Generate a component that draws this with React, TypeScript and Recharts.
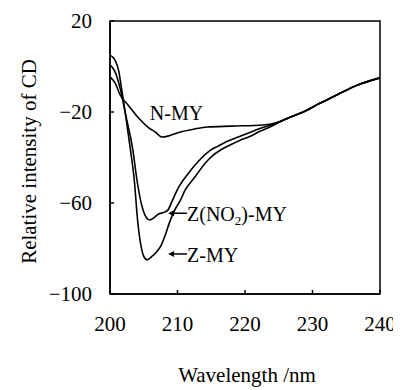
import React from "react";
import {
  LineChart,
  Line,
  XAxis,
  YAxis,
  ReferenceArea,
  ReferenceDot,
  Label,
} from "recharts";

// [wavelength nm, CD]
const zMy: [number, number][] = [
  [200, 5], [200.7, 3], [201.3, -2], [201.7, -9.5], [202.3, -21], [203, -36],
  [203.6, -50], [204.1, -68], [204.6, -79], [205.0, -83.5], [205.5, -85],
  [206.2, -83.5], [206.9, -81.5], [207.6, -78.5], [208.2, -74], [208.7, -69.5],
  [209.6, -63], [210.4, -59], [211.1, -54.5], [212.6, -48.5], [214.1, -42.5],
  [215.3, -39], [216.5, -36.5], [217.8, -34.5], [219.2, -32.5], [220.7, -30.8],
  [222.2, -28.5], [223.7, -26.6], [225, -24.6],
];

const zNo2My: [number, number][] = [
  [200, 0.7], [200.7, -2], [201.5, -9.5], [202.3, -21], [203.4, -37], [204, -50],
  [204.7, -61], [205.3, -66], [205.9, -67.5], [206.5, -66.5], [207.1, -65],
  [208.1, -64], [208.6, -63], [209.3, -58.5], [210.1, -53.5], [211.6, -47],
  [213, -42], [214.8, -37], [216, -35], [217.3, -33], [219, -31], [220.7, -29],
  [222.2, -27.3], [223.7, -25.8], [225, -24.4],
];

const nMy: [number, number][] = [
  [200, -4.6], [200.8, -7.5], [201.5, -12.5], [202.7, -17], [204.1, -22.2],
  [205.6, -26.6], [206.7, -28.8], [207.7, -31], [208.7, -30.5], [210.4, -28.8],
  [212.5, -27.5], [214.4, -26.6], [218, -26.2], [222.7, -25.7], [225, -24.4],
];

// shared tail after the curves merge
const tail: [number, number][] = [
  [226.5, -22.5], [228.6, -20], [231, -16.3], [233.6, -12.5], [236.6, -8.2], [240, -5],
];

const xTicks = [200, 210, 220, 230, 240];
const yTicks = [20, -20, -60, -100];

const toRows = (pts: [number, number][]) =>
  pts.concat(tail).map(([wl, cd]) => ({ wl, cd }));

const FONT = "Liberation Serif";

const fmtY = (v: number) => (v < 0 ? "\u2212" + Math.abs(v) : String(v));

const Arrow = ({ cx, cy, text }: any) => (
  <g>
    <line x1={cx + 3} y1={cy} x2={cx + 19} y2={cy} stroke="#000" strokeWidth={1.5} />
    <polygon points={`${cx},${cy} ${cx + 6},${cy - 3} ${cx + 6},${cy + 3}`} fill="#000" />
    <text x={cx + 19} y={cy + 8} fontFamily={FONT} fontSize={20}>
      {text}
    </text>
  </g>
);

export default function App() {
  return (
    <div className="cd-chart">
      <style>{`.cd-chart text, .cd-chart tspan { font-family: "Liberation Serif", serif !important; }`}</style>
      <LineChart
        width={390}
        height={380}
        margin={{ top: 13, right: 18, left: 0, bottom: 0 }}
      >
        <XAxis
          type="number"
          dataKey="wl"
          domain={[200, 240]}
          ticks={xTicks}
          height={94}
          tickSize={-4}
          tickMargin={26}
          stroke="#000"
          strokeWidth={1.5}
          tick={{ fontFamily: FONT, fontSize: 21, fill: "#000" }}
        >
          <Label
            content={({ viewBox }: any) => (
              <text
                x={viewBox.x + viewBox.width / 2 + 2}
                y={374}
                textAnchor="middle"
                fontFamily={FONT}
                fontSize={21}
              >
                Wavelength /nm
              </text>
            )}
          />
        </XAxis>
        <YAxis
          type="number"
          domain={[-100, 20]}
          ticks={yTicks}
          width={102}
          tickSize={-4}
          tickMargin={22}
          tickFormatter={fmtY}
          stroke="#000"
          strokeWidth={1.5}
          tick={{ fontFamily: FONT, fontSize: 21, fill: "#000" }}
        >
          <Label
            content={({ viewBox }: any) => (
              <text
                x={0}
                y={0}
                transform={`translate(28, ${viewBox.y + viewBox.height / 2 + 4}) rotate(-90)`}
                textAnchor="middle"
                fontFamily={FONT}
                fontSize={21}
              >
                Relative intensity of CD
              </text>
            )}
          />
        </YAxis>
        <ReferenceArea x1={200} x2={240} y1={-100} y2={20} fill="none" stroke="#000" strokeWidth={1.5} />
        <Line data={toRows(nMy)} dataKey="cd" type="monotone" stroke="#000" strokeWidth={1.6} dot={false} isAnimationActive={false} />
        <Line data={toRows(zNo2My)} dataKey="cd" type="monotone" stroke="#000" strokeWidth={1.6} dot={false} isAnimationActive={false} />
        <Line data={toRows(zMy)} dataKey="cd" type="monotone" stroke="#000" strokeWidth={1.6} dot={false} isAnimationActive={false} />
        <ReferenceDot
          x={205.9}
          y={-23.5}
          r={1}
          shape={({ cx, cy }: any) => (
            <text x={cx} y={cy} fontFamily={FONT} fontSize={20}>
              N-MY
            </text>
          )}
        />
        <ReferenceDot
          x={208.6}
          y={-64.5}
          r={1}
          shape={(p: any) => (
            <Arrow
              cx={p.cx}
              cy={p.cy}
              text={
                <>
                  Z(NO<tspan fontSize={13} dy={4}>2</tspan>
                  <tspan dy={-4}>)-MY</tspan>
                </>
              }
            />
          )}
        />
        <ReferenceDot
          x={208.6}
          y={-82.4}
          r={1}
          shape={(p: any) => <Arrow cx={p.cx} cy={p.cy} text="Z-MY" />}
        />
      </LineChart>
    </div>
  );
}
